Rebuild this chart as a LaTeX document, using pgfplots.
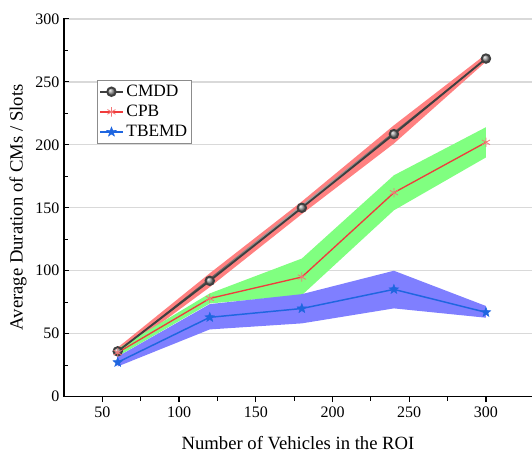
\documentclass[border=0pt]{standalone}
\usepackage{fontspec}
\setmainfont{Liberation Serif}
\usepackage{pgfplots}
\pgfplotsset{compat=1.18}
\definecolor{cmddline}{HTML}{3F3F3F}
\definecolor{cpbline}{HTML}{F03C3C}
\definecolor{tbline}{HTML}{1F66E0}
\definecolor{redband}{HTML}{FF8080}
\definecolor{greenband}{HTML}{80FF80}
\definecolor{blueband}{HTML}{7F7FFF}
\pgfdeclareplotmark{fstar}{%
  \pgfpathmoveto{\pgfpointpolar{90}{\pgfplotmarksize}}%
  \pgfpathlineto{\pgfpointpolar{126}{0.42\pgfplotmarksize}}%
  \pgfpathlineto{\pgfpointpolar{162}{\pgfplotmarksize}}%
  \pgfpathlineto{\pgfpointpolar{198}{0.42\pgfplotmarksize}}%
  \pgfpathlineto{\pgfpointpolar{234}{\pgfplotmarksize}}%
  \pgfpathlineto{\pgfpointpolar{270}{0.42\pgfplotmarksize}}%
  \pgfpathlineto{\pgfpointpolar{306}{\pgfplotmarksize}}%
  \pgfpathlineto{\pgfpointpolar{342}{0.42\pgfplotmarksize}}%
  \pgfpathlineto{\pgfpointpolar{18}{\pgfplotmarksize}}%
  \pgfpathlineto{\pgfpointpolar{54}{0.42\pgfplotmarksize}}%
  \pgfpathclose\pgfusepathqfillstroke}
\begin{document}
\begin{tikzpicture}
\begin{axis}[name=ax,scale only axis,width=351pt,height=283.8pt,
  xmin=25,xmax=330,ymin=0,ymax=300.5,
  axis x line=bottom,axis y line=left,axis line style={line width=1.1pt,-},
  xtick={50,100,...,300},ytick={0,50,...,300},
  minor x tick num=1,minor y tick num=1,
  xtick align=outside,ytick align=inside,
  major tick length=4pt,minor tick length=3pt,
  tick style={line width=0.9pt,black},
  ymajorgrids,grid style={line width=1pt,color=black!15},
  /pgf/number format/assume math mode=true,
  ticklabel style={font=\fontsize{12}{13}\selectfont},
  xlabel={Number of Vehicles in the ROI},
  ylabel={Average Duration of CMs / Slots},
  label style={font=\fontsize{14}{16}\selectfont},
  xlabel style={at={(axis description cs:0.5,0)},anchor=center,yshift=-35pt},
  ylabel style={at={(axis description cs:0,0.5)},anchor=center,xshift=0pt,yshift=34.5pt},
  legend style={at={(0.07,0.837)},anchor=north west,draw=black!45,line width=0.6pt,
    font=\fontsize{13}{14}\selectfont,inner sep=1.5pt,row sep=1pt},
  legend cell align=left]
% bands
\addplot[fill=redband,draw=none,forget plot] coordinates {(60,39)(120,98)(180,155)(240,215.5)(300,272)(300,266)(240,201)(180,145)(120,87)(60,33)};
\addplot[fill=greenband,draw=none,forget plot] coordinates {(60,38)(120,82)(180,109.7)(240,175.8)(300,214)(300,190)(240,148)(180,80.6)(120,74)(60,32)};
\addplot[fill=blueband,draw=none,forget plot] coordinates {(60,31.8)(120,73.5)(180,81.4)(240,100)(300,72)(300,62.7)(240,70.1)(180,58.2)(120,53.4)(60,24)};
% lines
\addplot[color=cmddline,line width=1.4pt,mark=ball,ball color=gray!80,mark size=3.2pt,mark options={draw=none}] coordinates {(60,36)(120,92)(180,150)(240,208.5)(300,268.5)};
\addplot[color=cpbline,line width=1pt,mark=asterisk,mark size=3.5pt,mark options={color=cpbline!70,line width=0.6pt}] coordinates {(60,35)(120,78)(180,95)(240,162)(300,202)};
\addplot[color=tbline,line width=1.1pt,mark=fstar,mark size=3.8pt,mark options={fill=tbline,draw=tbline,line width=0.3pt}] coordinates {(60,27.3)(120,63)(180,70)(240,85.2)(300,67)};
\legend{CMDD,CPB,TBEMD}
\end{axis}
\pgfresetboundingbox
\path[use as bounding box] ([xshift=-48pt,yshift=-43pt]ax.south west) rectangle ([yshift=13.7pt]ax.north east);
\end{tikzpicture}
\end{document}
